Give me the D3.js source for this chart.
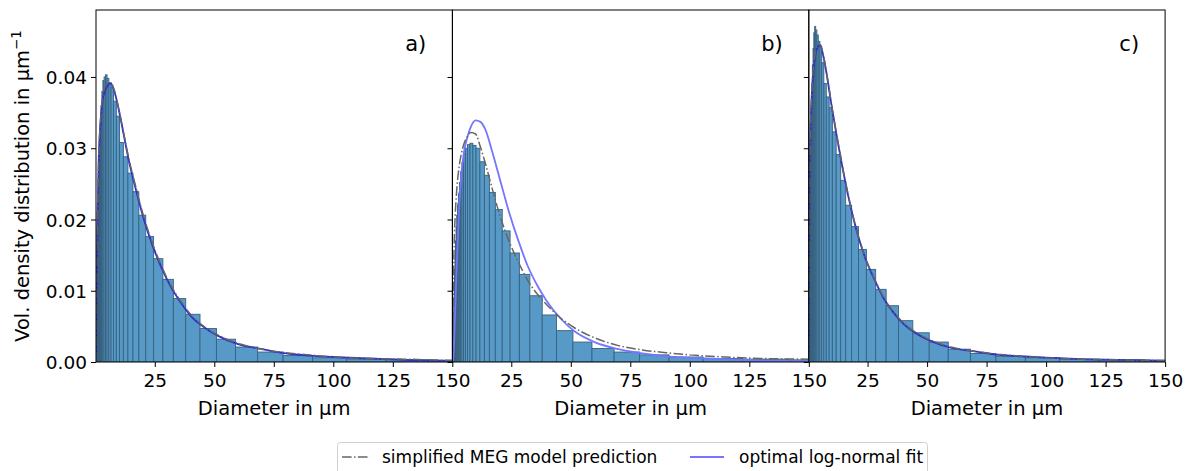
<!DOCTYPE html>
<html>
<head>
<meta charset="utf-8">
<script src="https://cdn.jsdelivr.net/npm/d3@7"></script>
<style>
  body { margin: 0; background: #fff; }
  svg { font-family: 'DejaVu Sans', sans-serif; }
</style>
</head>
<body>
<script>
// histogram bin edges in µm (log spaced, shared by all panels)
const binEdges = [0.31, 0.36, 0.41, 0.48, 0.55, 0.64, 0.74, 0.86, 1.0, 1.16, 1.34, 1.55, 1.79, 2.07, 2.4, 2.77, 3.2, 3.7,
  4.28, 4.95, 5.72, 6.62, 7.65, 8.85, 10.2, 11.8, 13.7, 15.8, 18.3, 21.2, 24.5, 28.4, 32.8, 38.0, 44.0, 50.9, 58.9,
  68.2, 78.9, 91.3, 105.6, 122.2, 141.4, 163.6];

const heightsA = [0.0035, 0.005, 0.0065, 0.0085, 0.0105, 0.013, 0.0155, 0.018, 0.0205, 0.023, 0.0255, 0.028, 0.031,
  0.0335, 0.036, 0.038, 0.0395, 0.0400, 0.0403, 0.0398, 0.0392, 0.0386, 0.0366, 0.0345, 0.0308, 0.0288, 0.0265,
  0.0239, 0.0206, 0.0176, 0.0145, 0.0116, 0.0089, 0.0067, 0.0047, 0.0032, 0.0021, 0.0014, 0.0009, 0.0006, 0.0004,
  0.0003, 0.0002];
const heightsB = [0.001, 0.0015, 0.002, 0.003, 0.004, 0.0055, 0.007, 0.009, 0.011, 0.013, 0.015, 0.017, 0.019,
  0.0206, 0.0222, 0.0237, 0.0252, 0.0267, 0.0280, 0.0293, 0.0300, 0.0305, 0.0307, 0.0304, 0.0300, 0.0281, 0.0262,
  0.0238, 0.0214, 0.0184, 0.0153, 0.0123, 0.0093, 0.0066, 0.0044, 0.0028, 0.0019, 0.0014, 0.0010, 0.0007, 0.0005,
  0.0004, 0.0003];
const heightsC = [0.004, 0.006, 0.008, 0.011, 0.014, 0.018, 0.022, 0.026, 0.030, 0.033, 0.036, 0.039, 0.0417,
  0.0440, 0.0462, 0.0471, 0.0466, 0.0459, 0.0450, 0.0443, 0.0420, 0.0391, 0.0372, 0.0357, 0.0323, 0.0291, 0.0255,
  0.0220, 0.0190, 0.0158, 0.0130, 0.0102, 0.0079, 0.0058, 0.0041, 0.0028, 0.0018, 0.0012, 0.0008, 0.0006, 0.0004,
  0.0003, 0.0002];

// curve sample diameters in µm
const curveX = [0.3, 0.5, 1, 1.5, 2, 3, 4, 5, 6.5, 8, 10, 12, 14, 17, 20, 24, 28, 32, 36, 40, 46, 52, 60, 70, 80, 90,
  100, 115, 130, 150];

const fitA = [0, 0.009, 0.0213, 0.029, 0.0325, 0.0366, 0.038, 0.0387, 0.0391, 0.0380, 0.0352, 0.0318, 0.0284, 0.0243,
  0.0205, 0.0164, 0.0131, 0.0104, 0.0083, 0.0065, 0.0048, 0.0036, 0.0025, 0.0018, 0.0012, 0.0009, 0.0007, 0.0005,
  0.0003, 0.0002];
const megA = [0, 0.010, 0.022, 0.0295, 0.033, 0.0370, 0.0385, 0.0391, 0.0392, 0.0381, 0.0353, 0.0320, 0.0287, 0.0246,
  0.0208, 0.0167, 0.0133, 0.0106, 0.0085, 0.0067, 0.0049, 0.0037, 0.0026, 0.0018, 0.0013, 0.0010, 0.0007, 0.0005,
  0.0004, 0.0002];
const fitB = [0, 0.0003, 0.003, 0.008, 0.013, 0.021, 0.0262, 0.0292, 0.0315, 0.0330, 0.0339, 0.0337, 0.0327, 0.0295,
  0.0259, 0.0211, 0.0170, 0.0134, 0.0107, 0.0085, 0.0060, 0.0042, 0.0028, 0.0018, 0.0012, 0.0008, 0.0006, 0.0004,
  0.0002, 0.0001];
const megB = [0.001, 0.006, 0.0165, 0.021, 0.0238, 0.0272, 0.0292, 0.0305, 0.0316, 0.0322, 0.0320, 0.0302, 0.0280,
  0.0243, 0.0208, 0.0170, 0.0140, 0.0114, 0.0095, 0.0080, 0.0061, 0.0047, 0.0034, 0.0023, 0.0017, 0.0013, 0.0010,
  0.0007, 0.0005, 0.0004];
const fitC = [0, 0.018, 0.032, 0.037, 0.040, 0.0430, 0.0442, 0.0445, 0.0428, 0.0400, 0.0357, 0.0318, 0.0281, 0.0231,
  0.0189, 0.0146, 0.0115, 0.0088, 0.0069, 0.0054, 0.0039, 0.0029, 0.0020, 0.0015, 0.0010, 0.0008, 0.0006, 0.0004,
  0.0003, 0.0002];
const megC = [0, 0.019, 0.0325, 0.0375, 0.0405, 0.0433, 0.0444, 0.0446, 0.0429, 0.0401, 0.0358, 0.0319, 0.0282,
  0.0232, 0.0190, 0.0147, 0.0116, 0.0089, 0.0070, 0.0055, 0.0040, 0.0030, 0.0021, 0.0015, 0.0011, 0.0008, 0.0006,
  0.0004, 0.0003, 0.0002];

const panelLabels = ['a)', 'b)', 'c)'];
const xTicks = [25, 50, 75, 100, 125, 150];
const yTicks = [0, 0.01, 0.02, 0.03, 0.04];
const legendLabels = ['simplified MEG model prediction', 'optimal log-normal fit'];

const w = 1189;
const h = 471;
const plotTop = 10;
const plotBottom = 362;
const pw = 356.3;
const lefts = [96, 452.5, 808.8];
const font = "'DejaVu Sans', sans-serif";

const svg = d3.select('body')
              .append('svg')
              .attr('width', w)
              .attr('height', h)

const y = d3.scaleLinear()
            .domain([0, 0.0494])
            .range([plotBottom, plotTop])

const panels = [
  { heights: heightsA, fit: fitA, meg: megA, fitColor: '#2c2cd2' },
  { heights: heightsB, fit: fitB, meg: megB, fitColor: '#7575ff' },
  { heights: heightsC, fit: fitC, meg: megC, fitColor: '#2c2cd2' }
];

panels.forEach((p, i) => {
  const x = d3.scaleLinear()
              .domain([0.3, 150])
              .range([lefts[i], lefts[i] + pw])

  svg.append('clipPath')
     .attr('id', 'clip' + i)
     .append('rect')
     .attr('x', lefts[i])
     .attr('y', plotTop)
     .attr('width', pw)
     .attr('height', plotBottom - plotTop)

  const g = svg.append('g')
               .attr('clip-path', `url(#clip${i})`)

  g.selectAll('rect')
   .data(p.heights)
   .enter()
   .append('rect')
   .attr('x', (d, j) => x(binEdges[j]))
   .attr('width', (d, j) => x(binEdges[j + 1]) - x(binEdges[j]))
   .attr('y', d => y(d))
   .attr('height', d => plotBottom - y(d))
   .attr('fill', '#5799c7')
   .attr('stroke', '#37627f')
   .attr('stroke-width', 0.9)

  const line = d3.line()
                 .x((d, j) => x(curveX[j]))
                 .y(d => y(d))
                 .curve(d3.curveMonotoneX)

  g.append('path')
   .datum(p.fit)
   .attr('d', line)
   .attr('fill', 'none')
   .attr('stroke', p.fitColor)
   .attr('stroke-width', 1.8)

  g.append('path')
   .datum(p.meg)
   .attr('d', line)
   .attr('fill', 'none')
   .attr('stroke', '#666')
   .attr('stroke-width', 1.5)
   .attr('stroke-dasharray', '9.6,2.4,1.5,2.4')

  const xAxis = svg.append('g')
                   .attr('transform', `translate(0,${plotBottom})`)
                   .call(d3.axisBottom(x).tickValues(xTicks).tickSize(5).tickPadding(7).tickSizeOuter(0))
  const yAxis = svg.append('g')
                   .attr('transform', `translate(${lefts[i]},0)`)
                   .call(d3.axisLeft(y).tickValues(yTicks).tickSize(5).tickPadding(4).tickSizeOuter(0)
                           .tickFormat(i === 0 ? d3.format('.2f') : ''))
  ;[xAxis, yAxis].forEach(a => {
    a.attr('font-family', font).attr('font-size', 18.5)
    a.select('.domain').remove()
    a.selectAll('text').attr('fill', '#000')
    a.selectAll('line').attr('stroke', '#000')
  })
  yAxis.selectAll('text').attr('dy', '0.36em')

  svg.append('rect')
     .attr('x', lefts[i])
     .attr('y', plotTop)
     .attr('width', pw)
     .attr('height', plotBottom - plotTop)
     .attr('fill', 'none')
     .attr('stroke', '#000')
     .attr('stroke-width', 1)

  svg.append('text')
     .attr('x', lefts[i] + pw - 26)
     .attr('y', 51)
     .attr('text-anchor', 'end')
     .attr('font-size', 21)
     .text(panelLabels[i])

  svg.append('text')
     .attr('x', lefts[i] + pw / 2)
     .attr('y', 415)
     .attr('text-anchor', 'middle')
     .attr('font-size', 19.5)
     .text('Diameter in µm')
})

const ylab = svg.append('text')
                .attr('transform', `translate(29,${(plotTop + plotBottom) / 2}) rotate(-90)`)
                .attr('text-anchor', 'middle')
                .attr('font-size', 19.5)
ylab.append('tspan').text('Vol. density distribution in µm')
ylab.append('tspan').attr('font-size', 13.5).attr('dy', -8).text('−1')

const legend = svg.append('g')
legend.append('rect')
      .attr('x', 337.5)
      .attr('y', 442.5)
      .attr('width', 590)
      .attr('height', 40)
      .attr('rx', 3)
      .attr('fill', '#fff')
      .attr('stroke', '#d0d0d0')
legend.append('line')
      .attr('x1', 342).attr('x2', 370).attr('y1', 457).attr('y2', 457)
      .attr('stroke', '#666').attr('stroke-width', 1.5)
      .attr('stroke-dasharray', '9.6,2.4,1.5,2.4')
legend.append('line')
      .attr('x1', 690).attr('x2', 724).attr('y1', 457).attr('y2', 457)
      .attr('stroke', '#7575ff').attr('stroke-width', 1.8)
legend.selectAll('text.lg')
      .data(legendLabels)
      .enter()
      .append('text')
      .attr('class', 'lg')
      .attr('x', (d, i) => i === 0 ? 382 : 739)
      .attr('y', 463)
      .attr('font-size', 17)
      .text(d => d)
</script>
</body>
</html>
